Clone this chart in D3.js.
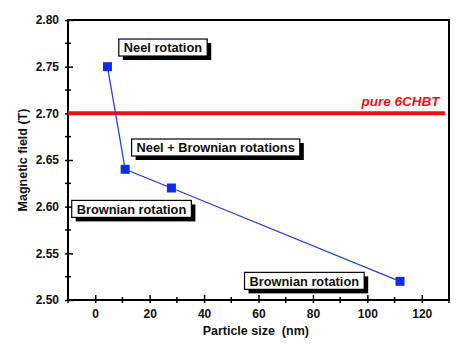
<!DOCTYPE html>
<html>
<head>
<meta charset="utf-8">
<script src="https://cdn.jsdelivr.net/npm/d3@7"></script>
<style>
  body { margin: 0; background: #fff; }
  text { font-family: "Liberation Sans", Arial, sans-serif; }
</style>
</head>
<body>
<div id="chart"></div>
<script>
var chart_width = 469
var chart_height = 348
var margin = {top: 20, right: 20, bottom: 48, left: 68}

// data
var sizes = [4.5, 11, 28, 112]
var fields = [2.75, 2.64, 2.62, 2.52]
var pure_field = 2.70
var x_ticks = [0, 20, 40, 60, 80, 100, 120]
var y_ticks = [2.50, 2.55, 2.60, 2.65, 2.70, 2.75, 2.80]
var label_texts = ['Neel rotation', 'Neel + Brownian rotations', 'Brownian rotation', 'Brownian rotation']
var label_x = [8.3, 13, -9, 54.5]
var label_y = [2.7705, 2.6634, 2.5976, 2.5205]

var svg = d3.select('#chart')
  .append('svg')
  .attr('width', chart_width)
  .attr('height', chart_height)

var x_scale = d3.scaleLinear()
  .domain([-10, 130])
  .range([margin.left, chart_width - margin.right])

var y_scale = d3.scaleLinear()
  .domain([2.50, 2.80])
  .range([chart_height - margin.bottom, margin.top])

// frame
svg.append('rect')
  .attr('x', x_scale(-10))
  .attr('y', y_scale(2.80))
  .attr('width', x_scale(130) - x_scale(-10))
  .attr('height', y_scale(2.50) - y_scale(2.80))
  .attr('fill', 'none')
  .attr('stroke', '#000')
  .attr('stroke-width', 2)

// axes
var x_axis = d3.axisBottom(x_scale).tickValues(x_ticks).tickSize(5).tickFormat(d3.format('d'))
var gx = svg.append('g')
  .attr('transform', 'translate(0,' + (chart_height - margin.bottom) + ')')
  .call(x_axis)
gx.selectAll('.tick line').attr('transform', 'translate(0,-5)').attr('y2', 8)
var x_minor = d3.range(-10, 131, 10).filter(d => x_ticks.indexOf(d) < 0)
gx.selectAll('.minor').data(x_minor).enter().append('line')
  .attr('x1', d => x_scale(d)).attr('x2', d => x_scale(d))
  .attr('y1', -3).attr('y2', 3)
  .attr('stroke', '#000').attr('stroke-width', 1.5)

var y_axis = d3.axisLeft(y_scale).tickValues(y_ticks).tickSize(5).tickFormat(d3.format('.2f'))
var gy = svg.append('g')
  .attr('transform', 'translate(' + margin.left + ',0)')
  .call(y_axis)
gy.selectAll('.tick line').attr('transform', 'translate(5,0)').attr('x2', -8)
var y_minor = d3.range(0, 12).map(i => 2.525 + i * 0.05).filter(d => d < 2.8)
gy.selectAll('.minor').data(y_minor).enter().append('line')
  .attr('y1', d => y_scale(d)).attr('y2', d => y_scale(d))
  .attr('x1', -3).attr('x2', 3)
  .attr('stroke', '#000').attr('stroke-width', 1.5)

svg.selectAll('.domain').remove()
svg.selectAll('.tick line').attr('stroke-width', 1.5)
svg.selectAll('.tick text')
  .style('font-size', '12px')
  .style('font-weight', 'bold')
  .style('font-family', '"Liberation Sans", Arial, sans-serif')
  .attr('fill', '#111')
gx.selectAll('.tick text').attr('y', 9)
gy.selectAll('.tick text').attr('x', -9)

// axis titles
svg.append('text')
  .attr('x', x_scale(59))
  .attr('y', 335)
  .attr('text-anchor', 'middle')
  .style('font-size', '12.5px')
  .style('font-weight', 'bold')
  .style('white-space', 'pre')
  .attr('fill', '#111')
  .text('Particle size  (nm)')

svg.append('text')
  .attr('transform', 'translate(27,160) rotate(-90)')
  .attr('text-anchor', 'middle')
  .style('font-size', '12.5px')
  .style('font-weight', 'bold')
  .attr('fill', '#111')
  .text('Magnetic field (T)')

// pure 6CHBT line
svg.append('line')
  .attr('x1', x_scale(-10)).attr('x2', x_scale(128.5))
  .attr('y1', y_scale(pure_field)).attr('y2', y_scale(pure_field))
  .attr('stroke', '#ee1111')
  .attr('stroke-width', 4)

svg.append('text')
  .attr('x', x_scale(126.5))
  .attr('y', y_scale(pure_field) - 7)
  .attr('text-anchor', 'end')
  .style('font-size', '13.5px')
  .style('font-style', 'italic')
  .style('font-weight', 'bold')
  .attr('fill', '#ee1111')
  .text('pure 6CHBT')

// data line and squares
var points = sizes.map((s, i) => ({x: s, y: fields[i]}))
var line = d3.line().x(d => x_scale(d.x)).y(d => y_scale(d.y))

svg.append('path')
  .datum(points)
  .attr('fill', 'none')
  .attr('stroke', '#2a3ee8')
  .attr('stroke-width', 1.3)
  .attr('d', line)

svg.selectAll('.pt').data(points).enter().append('rect')
  .attr('x', d => x_scale(d.x) - 4.5)
  .attr('y', d => y_scale(d.y) - 4.5)
  .attr('width', 9).attr('height', 9)
  .attr('fill', '#0b2df0')

// labels with drop shadow
label_texts.forEach(function(t, i) {
  var g = svg.append('g')
  var tx = g.append('text')
    .attr('x', x_scale(label_x[i]) + 6)
    .attr('y', y_scale(label_y[i]) + 4.8)
    .style('font-size', '12.8px')
    .style('font-weight', 'bold')
    .attr('fill', '#111')
    .text(t)
  var bb = tx.node().getBBox()
  var bx = bb.x - 5, by = y_scale(label_y[i]) - 8.5, bw = bb.width + 10, bh = 17
  g.insert('rect', 'text')
    .attr('x', bx + 4).attr('y', by + 4)
    .attr('width', bw).attr('height', bh)
    .attr('fill', '#000')
  g.insert('rect', 'text')
    .attr('x', bx).attr('y', by)
    .attr('width', bw).attr('height', bh)
    .attr('fill', '#fff')
    .attr('stroke', '#000')
    .attr('stroke-width', 1.2)
})
</script>
</body>
</html>
